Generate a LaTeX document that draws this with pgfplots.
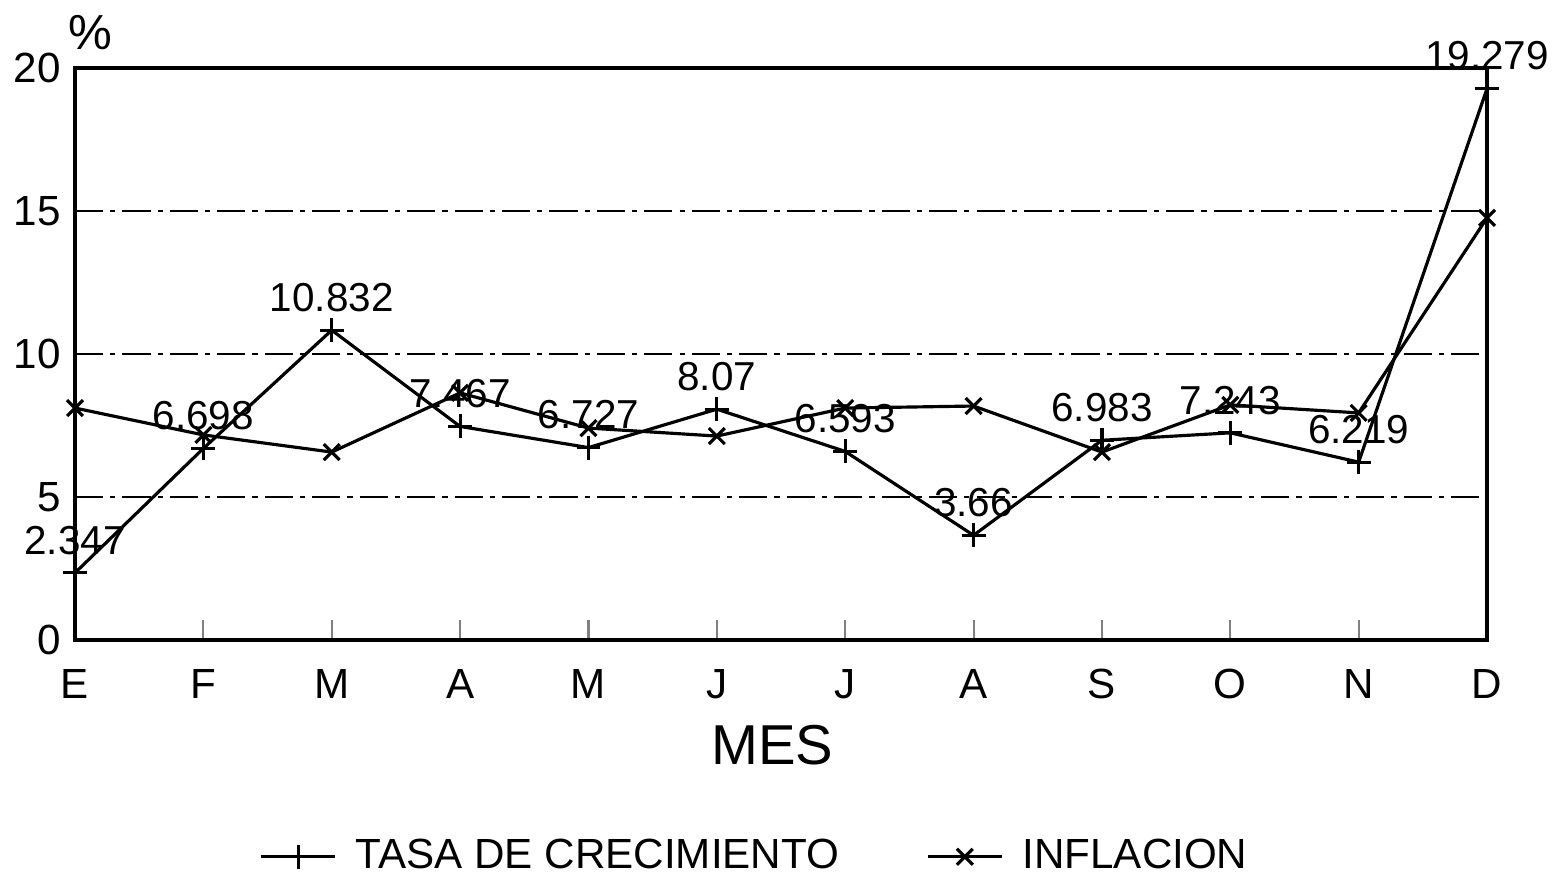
\documentclass[border=0pt]{standalone}
\usepackage{pgfplots}
\pgfplotsset{compat=1.18}
\usepackage{fontspec}
\setmainfont{Liberation Sans}

\begin{document}
\begin{tikzpicture}
\path[use as bounding box] (-0.75,-2.36) rectangle (14.79,6.40);
\begin{axis}[
  at={(0,0)}, anchor=south west,
  scale only axis,
  width=14.12cm, height=5.72cm,
  xmin=1, xmax=12,
  ymin=0, ymax=20,
  clip=false,
  axis line style={line width=1pt},
  xtick={1,...,12},
  xticklabels={E,F,M,A,M,J,J,A,S,O,N,D},
  ytick={0,5,...,20},
  tick pos=left,
  tick align=inside,
  xtick style={line width=0.6pt},
  ytick style={draw=none},
  major tick length=0.2cm,
  ymajorgrids,
  grid style={black, line width=0.5pt, dash pattern=on 8pt off 2pt on 1.5pt off 2pt},
  every tick label/.append style={font=\fontsize{12}{14}\selectfont},
  xticklabel style={yshift=-0.17cm},
  yticklabel style={xshift=-0.02cm},
  /pgf/number format/assume math mode=true,
  legend style={at={(0.483,-0.379)}, anchor=center, draw=none,
    font=\fontsize{12}{14}\selectfont, legend columns=2,
    /tikz/every even column/.append style={column sep=0.8cm}},
  legend image code/.code={
    \draw[mark repeat=2, mark phase=2] plot coordinates {(0cm,0cm) (0.37cm,0cm) (0.74cm,0cm)};},
  nodes near coords,
  every node near coord/.append style={font=\fontsize{11.5}{13}\selectfont, anchor=south, yshift=0.05cm},
]

% Tasa de crecimiento
\addplot[black, line width=0.9pt, mark=+, mark size=3.4pt,
  point meta=explicit symbolic] coordinates {
  (1, 2.347) [2.347]
  (2, 6.698) [6.698]
  (3, 10.832) [10.832]
  (4, 7.467) [7.467]
  (5, 6.727) [6.727]
  (6, 8.07) [8.07]
  (7, 6.593) [6.593]
  (8, 3.66) [3.66]
  (9, 6.983) [6.983]
  (10, 7.243) [7.243]
  (11, 6.219) [6.219]
  (12, 19.279) [19.279]
};
\addlegendentry{\hspace{0.12cm}TASA DE CRECIMIENTO}

% Inflacion
\addplot[black, line width=0.9pt, mark=x, mark size=3.2pt, nodes near coords={}] coordinates {
  (1, 8.11)
  (2, 7.17)
  (3, 6.57)
  (4, 8.64)
  (5, 7.41)
  (6, 7.13)
  (7, 8.11)
  (8, 8.18)
  (9, 6.57)
  (10, 8.22)
  (11, 7.94)
  (12, 14.76)
};
\addlegendentry{\hspace{0.12cm}INFLACION}

\node[font=\fontsize{14}{16}\selectfont] at (rel axis cs:0,1) [xshift=0.15cm, yshift=0.35cm] {\%};
\node[font=\fontsize{16}{18}\selectfont] at (rel axis cs:0.494,0) [yshift=-1.05cm] {MES};
\end{axis}
\end{tikzpicture}
\end{document}
